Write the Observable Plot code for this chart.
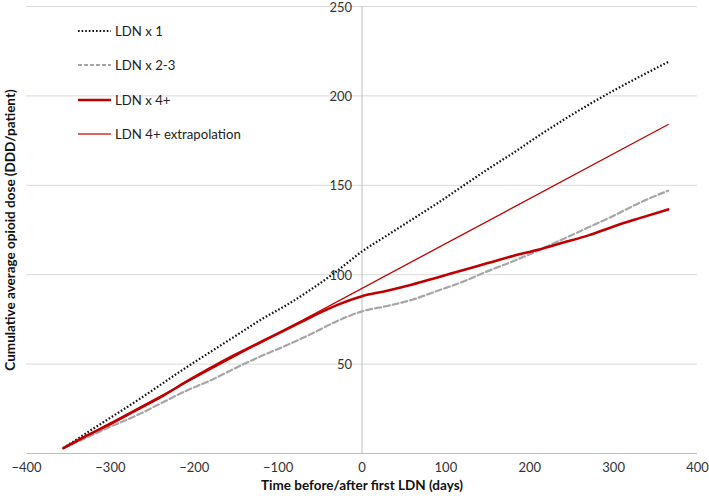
<!DOCTYPE html>
<html>
<head>
<meta charset="utf-8">
<script src="https://cdn.jsdelivr.net/npm/d3@7"></script>
<script src="https://cdn.jsdelivr.net/npm/@observablehq/plot@0.6"></script>
<style>
  html, body { margin: 0; padding: 0; background: #fff; }
  #wrap { position: relative; width: 709px; height: 496px; font-family: Lato, "Open Sans", sans-serif; }
  #legend { position: absolute; left: 78px; top: 0; }
  .lg { position: absolute; left: 0; width: 220px; height: 20px; display: flex; align-items: center; white-space: nowrap; font-size: 13.2px; color: #222; }
  .lg svg { margin-right: 4px; }
</style>
</head>
<body>
<div id="wrap"></div>
<script>
// ---- data ----
const days = [-356, -330, -300, -270, -240, -210, -180, -150, -120, -90, -60, -30, 0, 30, 60, 90, 120, 150, 180, 210, 240, 270, 300, 330, 365];
const ldn1 = [3, 11, 20, 29, 38.5, 48, 57, 66, 75, 83, 92, 102, 113, 122, 131, 140, 149.5, 159, 168, 177.5, 186.5, 195, 203, 210.5, 219];
const ldn23 = [3, 8.5, 15, 21, 28, 35, 41, 48, 54.5, 60.5, 67, 74, 79.5, 82.5, 86, 91, 96, 102, 107.5, 113.5, 120, 126.5, 133, 140, 147];
const ldn4 = [3, 9.5, 16.5, 24, 31.5, 40, 48, 55.5, 62.5, 69.5, 76.5, 83, 88, 91, 94.5, 98.5, 102.5, 106.5, 110.5, 114, 118, 122, 127, 131.5, 136.5];
const extrapDays = [-356, 365];
const extrapVals = [3, 184];
const seriesNames = ["LDN x 1", "LDN x 2-3", "LDN x 4+", "LDN 4+ extrapolation"];
const xTicks = [-400, -300, -200, -100, 0, 100, 200, 300, 400];
const yTicks = [50, 100, 150, 200, 250];

const rows = (arr) => days.map((d, i) => ({day: d, value: arr[i]}));
const extrap = extrapDays.map((d, i) => ({day: d, value: extrapVals[i]}));

const RED = "#c00000";
const GRAY = "#a6a6a6";

const chart = Plot.plot({
  width: 709,
  height: 496,
  marginLeft: 26,
  marginRight: 12,
  marginTop: 6,
  marginBottom: 43,
  style: {fontFamily: "Lato, 'Open Sans', sans-serif", fontSize: "13px", color: "#333", background: "#fff"},
  x: {domain: [-400, 400], axis: null},
  y: {domain: [0, 250], axis: null},
  marks: [
    Plot.gridY(yTicks, {stroke: "#d9d9d9", strokeOpacity: 1}),
    Plot.ruleY([0], {stroke: "#bfbfbf", strokeWidth: 1}),
    Plot.ruleX([0], {stroke: "#bfbfbf", strokeWidth: 1}),
    Plot.axisX(xTicks, {tickSize: 0, tickPadding: 9, fontSize: 13, label: null}),
    Plot.text(yTicks, {x: 0, y: d => d, text: d => String(d), textAnchor: "end", dx: -10, dy: 1, fontSize: 13, fill: "#333"}),
    Plot.line(rows(ldn23), {x: "day", y: "value", stroke: GRAY, strokeWidth: 2.2, strokeDasharray: "6,3", curve: "monotone-x"}),
    Plot.line(rows(ldn1), {x: "day", y: "value", stroke: "#111", strokeWidth: 2.2, strokeDasharray: "1.6,2", strokeLinecap: "butt", curve: "monotone-x"}),
    Plot.line(extrap, {x: "day", y: "value", stroke: RED, strokeWidth: 1.3}),
    Plot.line(rows(ldn4), {x: "day", y: "value", stroke: RED, strokeWidth: 2.6, curve: "monotone-x"}),
    Plot.text(["Time before/after first LDN (days)"], {frameAnchor: "bottom", dy: 36, fontWeight: "bold", fontSize: 13.5, fill: "#111"}),
    Plot.text(["Cumulative average opioid dose (DDD/patient)"], {frameAnchor: "left", textAnchor: "middle", dx: -16, rotate: -90, fontWeight: "bold", fontSize: 13.5, fill: "#111"})
  ]
});

const wrap = document.getElementById("wrap");
wrap.appendChild(chart);

// legend
const legend = document.createElement("div");
legend.id = "legend";
const styles = [
  {stroke: "#111", width: 2, dash: "1.6,2"},
  {stroke: GRAY, width: 2, dash: "4,2"},
  {stroke: RED, width: 2.6, dash: null},
  {stroke: "#cc3333", width: 1.6, dash: null}
];
const tops = [21, 55, 90, 124];
seriesNames.forEach((name, i) => {
  const row = document.createElement("div");
  row.className = "lg";
  row.style.top = tops[i] + "px";
  const s = styles[i];
  row.innerHTML = `<svg width="33" height="6"><line x1="0" y1="3" x2="33" y2="3" stroke="${s.stroke}" stroke-width="${s.width}" ${s.dash ? `stroke-dasharray="${s.dash}"` : ""}/></svg><span>${name}</span>`;
  legend.appendChild(row);
});
wrap.appendChild(legend);
</script>
</body>
</html>
